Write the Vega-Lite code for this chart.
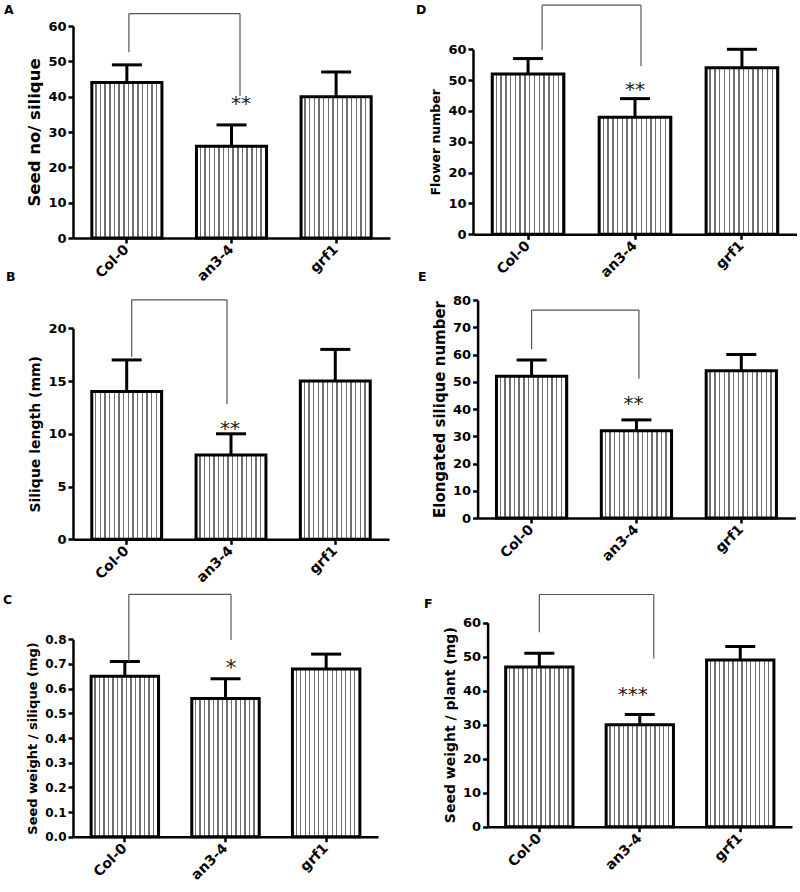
{
  "$schema": "https://vega.github.io/schema/vega-lite/v6.json",
  "padding": {"left": 3, "top": 3, "right": 0, "bottom": 0},
  "background": "white",
  "config": {
    "view": {"stroke": null},
    "font": "DejaVu Sans",
    "bar": {
      "stroke": "black",
      "strokeWidth": 3,
      "fill": {
        "gradient": "linear", "x1": 0, "x2": 1, "y1": 0, "y2": 0,
        "stops": [
          {"offset": 0, "color": "#ffffff"}, {"offset": 0.0467, "color": "#ffffff"}, {"offset": 0.0467, "color": "#707070"}, {"offset": 0.0667, "color": "#707070"},
          {"offset": 0.0667, "color": "#ffffff"}, {"offset": 0.1133, "color": "#ffffff"}, {"offset": 0.1133, "color": "#707070"}, {"offset": 0.1333, "color": "#707070"},
          {"offset": 0.1333, "color": "#ffffff"}, {"offset": 0.18, "color": "#ffffff"}, {"offset": 0.18, "color": "#707070"}, {"offset": 0.2, "color": "#707070"},
          {"offset": 0.2, "color": "#ffffff"}, {"offset": 0.2467, "color": "#ffffff"}, {"offset": 0.2467, "color": "#707070"}, {"offset": 0.2667, "color": "#707070"},
          {"offset": 0.2667, "color": "#ffffff"}, {"offset": 0.3133, "color": "#ffffff"}, {"offset": 0.3133, "color": "#707070"}, {"offset": 0.3333, "color": "#707070"},
          {"offset": 0.3333, "color": "#ffffff"}, {"offset": 0.38, "color": "#ffffff"}, {"offset": 0.38, "color": "#707070"}, {"offset": 0.4, "color": "#707070"},
          {"offset": 0.4, "color": "#ffffff"}, {"offset": 0.4467, "color": "#ffffff"}, {"offset": 0.4467, "color": "#707070"}, {"offset": 0.4667, "color": "#707070"},
          {"offset": 0.4667, "color": "#ffffff"}, {"offset": 0.5133, "color": "#ffffff"}, {"offset": 0.5133, "color": "#707070"}, {"offset": 0.5333, "color": "#707070"},
          {"offset": 0.5333, "color": "#ffffff"}, {"offset": 0.58, "color": "#ffffff"}, {"offset": 0.58, "color": "#707070"}, {"offset": 0.6, "color": "#707070"},
          {"offset": 0.6, "color": "#ffffff"}, {"offset": 0.6467, "color": "#ffffff"}, {"offset": 0.6467, "color": "#707070"}, {"offset": 0.6667, "color": "#707070"},
          {"offset": 0.6667, "color": "#ffffff"}, {"offset": 0.7133, "color": "#ffffff"}, {"offset": 0.7133, "color": "#707070"}, {"offset": 0.7333, "color": "#707070"},
          {"offset": 0.7333, "color": "#ffffff"}, {"offset": 0.78, "color": "#ffffff"}, {"offset": 0.78, "color": "#707070"}, {"offset": 0.8, "color": "#707070"},
          {"offset": 0.8, "color": "#ffffff"}, {"offset": 0.8467, "color": "#ffffff"}, {"offset": 0.8467, "color": "#707070"}, {"offset": 0.8667, "color": "#707070"},
          {"offset": 0.8667, "color": "#ffffff"}, {"offset": 0.9133, "color": "#ffffff"}, {"offset": 0.9133, "color": "#707070"}, {"offset": 0.9333, "color": "#707070"},
          {"offset": 0.9333, "color": "#ffffff"}, {"offset": 0.98, "color": "#ffffff"}, {"offset": 0.98, "color": "#707070"}, {"offset": 1, "color": "#707070"}
        ]
      }
    },
    "axis": {
      "grid": false, "domainColor": "black", "domainWidth": 2.5, "tickColor": "black", "tickWidth": 2.5, "tickSize": 5,
      "labelFont": "DejaVu Sans", "labelFontWeight": "bold", "labelFontSize": 13, "labelColor": "black", "labelPadding": 2, "labelOverlap": false,
      "titleFont": "DejaVu Sans", "titleFontWeight": "bold", "titleFontSize": 15, "titleColor": "black", "titlePadding": 5
    },
    "axisX": {"labelAngle": -45, "labelAlign": "right", "labelBaseline": "middle", "labelFontSize": 14, "labelPadding": 4, "title": null},
    "title": {"font": "DejaVu Sans", "fontWeight": "bold", "fontSize": 12.5, "color": "black", "anchor": "start", "frame": "group", "offset": 0, "baseline": "alphabetic"}
  },
  "columns": 2,
  "bounds": "flush",
  "align": "each",
  "spacing": {"row": 62, "column": 83},
  "concat": [
    {
      "width": 317, "height": 212,
      "title": {"text": "A", "dx": -69, "dy": 7.7},
      "data": {"values": [{"g": "Col-0", "v": 44, "err": 49}, {"g": "an3-4", "v": 26, "err": 32}, {"g": "grf1", "v": 40, "err": 47}]},
      "layer": [
        {"mark": "bar", "encoding": {
          "x": {"field": "g", "type": "nominal", "scale": {"domain": ["Col-0", "an3-4", "grf1"], "paddingInner": 0.33, "paddingOuter": 0.18}, "axis": {"title": null}},
          "y": {"field": "v", "type": "quantitative", "scale": {"domain": [0, 60], "nice": false}, "axis": {"title": "Seed no/ silique", "titleFontSize": 16.5, "values": [0, 10, 20, 30, 40, 50, 60], "tickCount": 7, "labelOverlap": false}}}},
        {"mark": {"type": "rule", "strokeWidth": 3, "color": "black"}, "encoding": {"x": {"field": "g", "type": "nominal"}, "y": {"field": "v", "type": "quantitative"}, "y2": {"field": "err"}}},
        {"mark": {"type": "tick", "size": 30, "thickness": 3, "color": "black", "opacity": 1}, "encoding": {"x": {"field": "g", "type": "nominal"}, "y": {"field": "err", "type": "quantitative"}}},
        {"data": {"values": [{"g1": "Col-0", "g2": "an3-4", "top": 63.5, "l": 52.6, "r": 40.2, "sig": "**", "sy": 39.3}]},
         "layer": [
           {"mark": {"type": "rule", "color": "#555", "strokeWidth": 1.2, "xOffset": 2}, "encoding": {"x": {"field": "g1", "type": "nominal"}, "y": {"field": "l", "type": "quantitative"}, "y2": {"field": "top"}}},
           {"mark": {"type": "rule", "color": "#555", "strokeWidth": 1.2, "xOffset": 8.5}, "encoding": {"x": {"field": "g2", "type": "nominal"}, "y": {"field": "r", "type": "quantitative"}, "y2": {"field": "top"}}},
           {"mark": {"type": "rule", "color": "#555", "strokeWidth": 1.2, "xOffset": 2, "x2Offset": 8.5}, "encoding": {"x": {"field": "g1", "type": "nominal"}, "x2": {"field": "g2"}, "y": {"field": "top", "type": "quantitative"}}},
           {"mark": {"type": "text", "fontSize": 20, "dy": 5, "xOffset": 9.5, "color": "#222"}, "encoding": {"x": {"field": "g2", "type": "nominal"}, "y": {"field": "sy", "type": "quantitative"}, "text": {"field": "sig"}}}
         ]}
      ]
    },
    {
      "width": 324, "height": 208.3,
      "title": {"text": "D", "dx": -57, "dy": 15.8},
      "data": {"values": [{"g": "Col-0", "v": 52, "err": 57}, {"g": "an3-4", "v": 38, "err": 44}, {"g": "grf1", "v": 54, "err": 60}]},
      "layer": [
        {"mark": "bar", "encoding": {
          "x": {"field": "g", "type": "nominal", "scale": {"domain": ["Col-0", "an3-4", "grf1"], "paddingInner": 0.33, "paddingOuter": 0.18}, "axis": {"title": null}},
          "y": {"field": "v", "type": "quantitative", "scale": {"domain": [0, 60], "nice": false, "range": [208.3, 23.3]}, "axis": {"title": "Flower  number", "titleFontSize": 12.5, "values": [0, 10, 20, 30, 40, 50, 60], "tickCount": 7, "labelOverlap": false}}}},
        {"mark": {"type": "rule", "strokeWidth": 3, "color": "black"}, "encoding": {"x": {"field": "g", "type": "nominal"}, "y": {"field": "v", "type": "quantitative"}, "y2": {"field": "err"}}},
        {"mark": {"type": "tick", "size": 30, "thickness": 3, "color": "black", "opacity": 1}, "encoding": {"x": {"field": "g", "type": "nominal"}, "y": {"field": "err", "type": "quantitative"}}},
        {"data": {"values": [{"g1": "Col-0", "g2": "an3-4", "top": 74.3, "l": 59.8, "r": 54.6, "sig": "**", "sy": 48.3}]},
         "layer": [
           {"mark": {"type": "rule", "color": "#555", "strokeWidth": 1.2, "xOffset": 14}, "encoding": {"x": {"field": "g1", "type": "nominal"}, "y": {"field": "l", "type": "quantitative"}, "y2": {"field": "top"}}},
           {"mark": {"type": "rule", "color": "#555", "strokeWidth": 1.2, "xOffset": 6}, "encoding": {"x": {"field": "g2", "type": "nominal"}, "y": {"field": "r", "type": "quantitative"}, "y2": {"field": "top"}}},
           {"mark": {"type": "rule", "color": "#555", "strokeWidth": 1.2, "xOffset": 14, "x2Offset": 6}, "encoding": {"x": {"field": "g1", "type": "nominal"}, "x2": {"field": "g2"}, "y": {"field": "top", "type": "quantitative"}}},
           {"mark": {"type": "text", "fontSize": 20, "dy": 5, "xOffset": 0, "color": "#222"}, "encoding": {"x": {"field": "g2", "type": "nominal"}, "y": {"field": "sy", "type": "quantitative"}, "text": {"field": "sig"}}}
         ]}
      ]
    },
    {
      "width": 316, "height": 239.3,
      "title": {"text": "B", "dx": -67, "dy": -12},
      "data": {"values": [{"g": "Col-0", "v": 14, "err": 17}, {"g": "an3-4", "v": 8, "err": 10}, {"g": "grf1", "v": 15, "err": 18}]},
      "layer": [
        {"mark": "bar", "encoding": {
          "x": {"field": "g", "type": "nominal", "scale": {"domain": ["Col-0", "an3-4", "grf1"], "paddingInner": 0.33, "paddingOuter": 0.18}, "axis": {"title": null}},
          "y": {"field": "v", "type": "quantitative", "scale": {"domain": [0, 20], "nice": false, "range": [239.3, 28.3]}, "axis": {"title": "Silique length (mm)", "titleFontSize": 14, "values": [0, 5, 10, 15, 20], "tickCount": 5, "labelOverlap": false}}}},
        {"mark": {"type": "rule", "strokeWidth": 3, "color": "black"}, "encoding": {"x": {"field": "g", "type": "nominal"}, "y": {"field": "v", "type": "quantitative"}, "y2": {"field": "err"}}},
        {"mark": {"type": "tick", "size": 30, "thickness": 3, "color": "black", "opacity": 1}, "encoding": {"x": {"field": "g", "type": "nominal"}, "y": {"field": "err", "type": "quantitative"}}},
        {"data": {"values": [{"g1": "Col-0", "g2": "an3-4", "top": 22.7, "l": 17.3, "r": 12.8, "sig": "**", "sy": 10.9}]},
         "layer": [
           {"mark": {"type": "rule", "color": "#555", "strokeWidth": 1.2, "xOffset": 5}, "encoding": {"x": {"field": "g1", "type": "nominal"}, "y": {"field": "l", "type": "quantitative"}, "y2": {"field": "top"}}},
           {"mark": {"type": "rule", "color": "#555", "strokeWidth": 1.2, "xOffset": -4}, "encoding": {"x": {"field": "g2", "type": "nominal"}, "y": {"field": "r", "type": "quantitative"}, "y2": {"field": "top"}}},
           {"mark": {"type": "rule", "color": "#555", "strokeWidth": 1.2, "xOffset": 5, "x2Offset": -4}, "encoding": {"x": {"field": "g1", "type": "nominal"}, "x2": {"field": "g2"}, "y": {"field": "top", "type": "quantitative"}}},
           {"mark": {"type": "text", "fontSize": 20, "dy": 5, "xOffset": -1, "color": "#222"}, "encoding": {"x": {"field": "g2", "type": "nominal"}, "y": {"field": "sy", "type": "quantitative"}, "text": {"field": "sig"}}}
         ]}
      ]
    },
    {
      "width": 322.3, "height": 218,
      "title": {"text": "E", "dx": -55, "dy": -6.7},
      "data": {"values": [{"g": "Col-0", "v": 52, "err": 58}, {"g": "an3-4", "v": 32, "err": 36}, {"g": "grf1", "v": 54, "err": 60}]},
      "layer": [
        {"mark": "bar", "encoding": {
          "x": {"field": "g", "type": "nominal", "scale": {"domain": ["Col-0", "an3-4", "grf1"], "paddingInner": 0.33, "paddingOuter": 0.18, "range": [4.6, 322.3]}, "axis": {"title": null}},
          "y": {"field": "v", "type": "quantitative", "scale": {"domain": [0, 80], "nice": false}, "axis": {"title": "Elongated silique number", "titleFontSize": 15, "offset": -4.6, "values": [0, 10, 20, 30, 40, 50, 60, 70, 80], "tickCount": 9, "labelOverlap": false}}}},
        {"mark": {"type": "rule", "strokeWidth": 3, "color": "black"}, "encoding": {"x": {"field": "g", "type": "nominal"}, "y": {"field": "v", "type": "quantitative"}, "y2": {"field": "err"}}},
        {"mark": {"type": "tick", "size": 30, "thickness": 3, "color": "black", "opacity": 1}, "encoding": {"x": {"field": "g", "type": "nominal"}, "y": {"field": "err", "type": "quantitative"}}},
        {"data": {"values": [{"g1": "Col-0", "g2": "an3-4", "top": 76.3, "l": 61.9, "r": 51.1, "sig": "**", "sy": 43.5}]},
         "layer": [
           {"mark": {"type": "rule", "color": "#555", "strokeWidth": 1.2, "xOffset": 0}, "encoding": {"x": {"field": "g1", "type": "nominal"}, "y": {"field": "l", "type": "quantitative"}, "y2": {"field": "top"}}},
           {"mark": {"type": "rule", "color": "#555", "strokeWidth": 1.2, "xOffset": 2.5}, "encoding": {"x": {"field": "g2", "type": "nominal"}, "y": {"field": "r", "type": "quantitative"}, "y2": {"field": "top"}}},
           {"mark": {"type": "rule", "color": "#555", "strokeWidth": 1.2, "xOffset": 0, "x2Offset": 2.5}, "encoding": {"x": {"field": "g1", "type": "nominal"}, "x2": {"field": "g2"}, "y": {"field": "top", "type": "quantitative"}}},
           {"mark": {"type": "text", "fontSize": 20, "dy": 5, "xOffset": -3, "color": "#222"}, "encoding": {"x": {"field": "g2", "type": "nominal"}, "y": {"field": "sy", "type": "quantitative"}, "text": {"field": "sig"}}}
         ]}
      ]
    },
    {
      "width": 305, "height": 234.7,
      "title": {"text": "C", "dx": -70, "dy": 16.8},
      "data": {"values": [{"g": "Col-0", "v": 0.65, "err": 0.71}, {"g": "an3-4", "v": 0.56, "err": 0.64}, {"g": "grf1", "v": 0.68, "err": 0.74}]},
      "layer": [
        {"mark": "bar", "encoding": {
          "x": {"field": "g", "type": "nominal", "scale": {"domain": ["Col-0", "an3-4", "grf1"], "paddingInner": 0.33, "paddingOuter": 0.18}, "axis": {"title": null}},
          "y": {"field": "v", "type": "quantitative", "scale": {"domain": [0, 0.8], "nice": false, "range": [234.7, 37.3]}, "axis": {"title": "Seed weight / silique (mg)", "titleFontSize": 13, "labelFontSize": 12, "format": ".1f", "values": [0, 0.1, 0.2, 0.3, 0.4, 0.5, 0.6, 0.7, 0.8], "tickCount": 9, "labelOverlap": false}}}},
        {"mark": {"type": "rule", "strokeWidth": 3, "color": "black"}, "encoding": {"x": {"field": "g", "type": "nominal"}, "y": {"field": "v", "type": "quantitative"}, "y2": {"field": "err"}}},
        {"mark": {"type": "tick", "size": 30, "thickness": 3, "color": "black", "opacity": 1}, "encoding": {"x": {"field": "g", "type": "nominal"}, "y": {"field": "err", "type": "quantitative"}}},
        {"data": {"values": [{"g1": "Col-0", "g2": "an3-4", "top": 0.982, "l": 0.71, "r": 0.797, "sig": "*", "sy": 0.709}]},
         "layer": [
           {"mark": {"type": "rule", "color": "#555", "strokeWidth": 1.2, "xOffset": 4}, "encoding": {"x": {"field": "g1", "type": "nominal"}, "y": {"field": "l", "type": "quantitative"}, "y2": {"field": "top"}}},
           {"mark": {"type": "rule", "color": "#555", "strokeWidth": 1.2, "xOffset": 5.5}, "encoding": {"x": {"field": "g2", "type": "nominal"}, "y": {"field": "r", "type": "quantitative"}, "y2": {"field": "top"}}},
           {"mark": {"type": "rule", "color": "#555", "strokeWidth": 1.2, "xOffset": 4, "x2Offset": 5.5}, "encoding": {"x": {"field": "g1", "type": "nominal"}, "x2": {"field": "g2"}, "y": {"field": "top", "type": "quantitative"}}},
           {"mark": {"type": "text", "fontSize": 22, "dy": 6, "xOffset": 5.5, "color": "#222"}, "encoding": {"x": {"field": "g2", "type": "nominal"}, "y": {"field": "sy", "type": "quantitative"}, "text": {"field": "sig"}}}
         ]}
      ]
    },
    {
      "width": 319, "height": 224.7,
      "title": {"text": "F", "dx": -49, "dy": 20.6},
      "data": {"values": [{"g": "Col-0", "v": 47, "err": 51}, {"g": "an3-4", "v": 30, "err": 33}, {"g": "grf1", "v": 49, "err": 53}]},
      "layer": [
        {"mark": "bar", "encoding": {
          "x": {"field": "g", "type": "nominal", "scale": {"domain": ["Col-0", "an3-4", "grf1"], "paddingInner": 0.33, "paddingOuter": 0.18, "range": [14.6, 319]}, "axis": {"title": null}},
          "y": {"field": "v", "type": "quantitative", "scale": {"domain": [0, 60], "nice": false, "range": [224.7, 20.7]}, "axis": {"title": "Seed weight / plant (mg)", "titleFontSize": 14, "offset": -14.6, "values": [0, 10, 20, 30, 40, 50, 60], "tickCount": 7, "labelOverlap": false}}}},
        {"mark": {"type": "rule", "strokeWidth": 3, "color": "black"}, "encoding": {"x": {"field": "g", "type": "nominal"}, "y": {"field": "v", "type": "quantitative"}, "y2": {"field": "err"}}},
        {"mark": {"type": "tick", "size": 30, "thickness": 3, "color": "black", "opacity": 1}, "encoding": {"x": {"field": "g", "type": "nominal"}, "y": {"field": "err", "type": "quantitative"}}},
        {"data": {"values": [{"g1": "Col-0", "g2": "an3-4", "top": 68.3, "l": 57.2, "r": 49.5, "sig": "***", "sy": 40.2}]},
         "layer": [
           {"mark": {"type": "rule", "color": "#555", "strokeWidth": 1.2, "xOffset": 0}, "encoding": {"x": {"field": "g1", "type": "nominal"}, "y": {"field": "l", "type": "quantitative"}, "y2": {"field": "top"}}},
           {"mark": {"type": "rule", "color": "#555", "strokeWidth": 1.2, "xOffset": 14}, "encoding": {"x": {"field": "g2", "type": "nominal"}, "y": {"field": "r", "type": "quantitative"}, "y2": {"field": "top"}}},
           {"mark": {"type": "rule", "color": "#555", "strokeWidth": 1.2, "xOffset": 0, "x2Offset": 14}, "encoding": {"x": {"field": "g1", "type": "nominal"}, "x2": {"field": "g2"}, "y": {"field": "top", "type": "quantitative"}}},
           {"mark": {"type": "text", "fontSize": 20, "dy": 5, "xOffset": -7, "color": "#222"}, "encoding": {"x": {"field": "g2", "type": "nominal"}, "y": {"field": "sy", "type": "quantitative"}, "text": {"field": "sig"}}}
         ]}
      ]
    }
  ]
}
